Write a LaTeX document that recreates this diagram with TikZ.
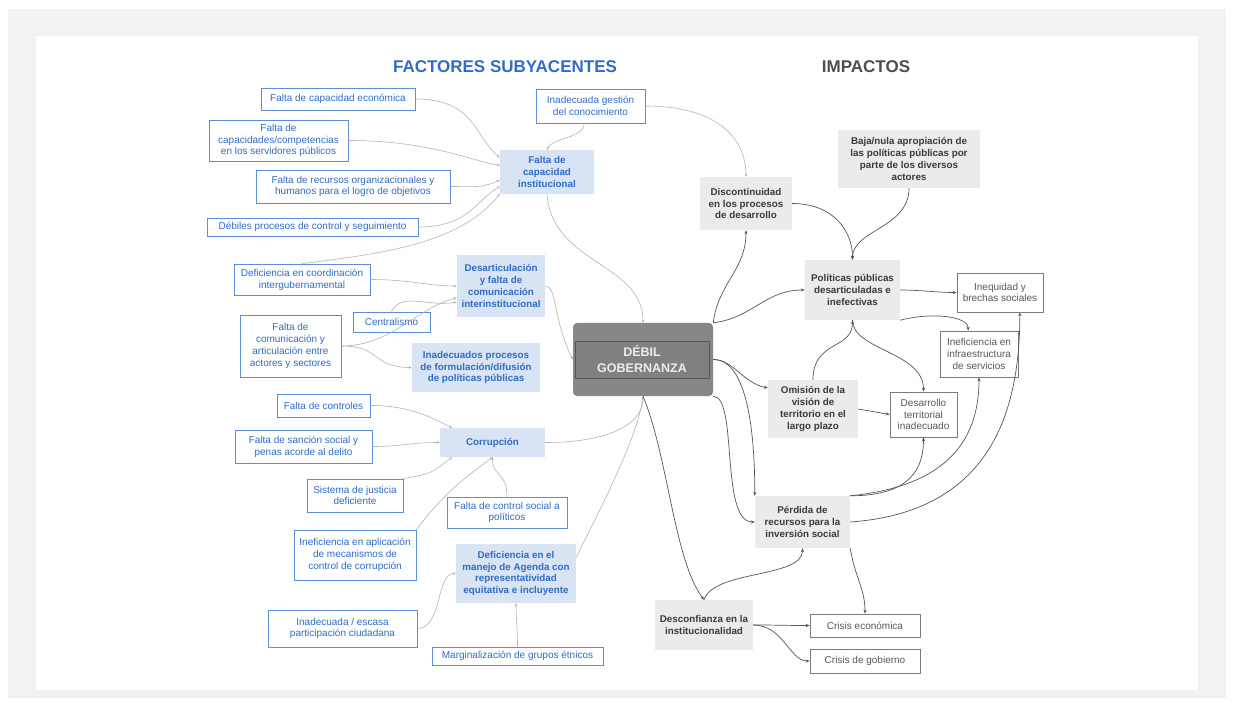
\documentclass[tikz,border=0pt]{standalone}
\usepackage{fontspec}
\setmainfont{Liberation Sans}
\usetikzlibrary{arrows.meta}
\definecolor{bggray}{HTML}{F2F2F2}
\definecolor{bluetxt}{HTML}{2F6CC5}
\definecolor{blueln}{HTML}{5A8FD8}
\definecolor{bluefill}{HTML}{D8E3F3}
\definecolor{lconn}{HTML}{B4B4B4}
\definecolor{rconn}{HTML}{555555}
\definecolor{grayfill}{HTML}{EBEBEB}
\definecolor{graytxt}{HTML}{3A3A3A}
\definecolor{grayln}{HTML}{7A7A7A}
\definecolor{debilfill}{HTML}{878787}
\definecolor{debilln}{HTML}{555555}
\begin{document}
\begin{tikzpicture}[x=1pt,y=-1pt,
  base/.style={align=center,inner sep=1pt,font=\fontsize{10}{11.8}\selectfont},
  bb/.style={base,draw=blueln,line width=0.8pt,fill=white,text=bluetxt},
  bf/.style={base,fill=bluefill,text=bluetxt,font=\fontsize{9.8}{11.8}\selectfont\bfseries},
  gf/.style={base,fill=grayfill,text=graytxt,font=\fontsize{9.8}{11.8}\selectfont\bfseries},
  gb/.style={base,draw=grayln,line width=0.7pt,fill=white,text=graytxt!85},
  lc/.style={draw=lconn,line width=0.6pt,-{Stealth[length=3pt,width=2.6pt]}},
  rc/.style={draw=rconn,line width=0.7pt,-{Stealth[length=4pt,width=3.2pt]}},
  ttl/.style={font=\fontsize{17}{20}\selectfont\bfseries}
]
\useasboundingbox (0,0) rectangle (1234,708);
\fill[white] (0,0) rectangle (1234,708);
\fill[bggray] (8,9) rectangle (1226,698);
\fill[white] (36,36) rectangle (1198,690);

% titles
\node[ttl,text=bluetxt] (t1) at (505,67) {FACTORES SUBYACENTES};
\node[ttl,text=graytxt!90] (t2) at (866,67) {IMPACTOS};

% left side
\node[bb,minimum width=154,minimum height=22] (capecon) at (338,99) {Falta de capacidad económica};
\node[bb,minimum width=139,minimum height=41] (capserv) at (278.5,140.5) {Falta de\\capacidades/competencias\\en los servidores públicos};
\node[bb,minimum width=194,minimum height=33] (recursos) at (353,186.5) {Falta de recursos organizacionales y\\humanos para el logro de objetivos};
\node[bb,minimum width=211,minimum height=18] (debiles) at (312.5,227) {Débiles procesos de control y seguimiento};
\node[bb,minimum width=109,minimum height=34] (gestion) at (590.5,106) {Inadecuada gestión\\del conocimiento};
\node[bf,minimum width=94,minimum height=44] (instit) at (547,172) {Falta de\\capacidad\\institucional};
\node[bb,minimum width=136,minimum height=31] (coord) at (302,279.5) {Deficiencia en coordinación\\intergubernamental};
\node[bf,minimum width=88,minimum height=62] (desart) at (501,286) {Desarticulación\\y falta de\\comunicación\\interinstitucional};
\node[bb,minimum width=77,minimum height=20] (central) at (391.5,322) {Centralismo};
\node[bb,minimum width=101,minimum height=62] (comun) at (290.5,346) {Falta de\\comunicación y\\articulación entre\\actores y sectores};
\node[bf,minimum width=128,minimum height=49] (formul) at (476,367.5) {Inadecuados procesos\\de formulación/difusión\\de políticas públicas};
\node[bb,minimum width=93,minimum height=23] (controles) at (323.5,405.5) {Falta de controles};
\node[bb,minimum width=137,minimum height=33] (sancion) at (303.5,446.5) {Falta de sanción social y\\penas acorde al delito};
\node[bf,minimum width=105,minimum height=29] (corrup) at (492.5,442.5) {Corrupción};
\node[bb,minimum width=96,minimum height=33] (justicia) at (355,495.5) {Sistema de justicia\\deficiente};
\node[bb,minimum width=120,minimum height=31] (ctrlsoc) at (507,512.5) {Falta de control social a\\políticos};
\node[bb,minimum width=122,minimum height=50] (inefic) at (355,555) {Ineficiencia en aplicación\\de mecanismos de\\control de corrupción};
\node[bf,minimum width=120,minimum height=59] (agenda) at (516,573.5) {Deficiencia en el\\manejo de Agenda con\\representatividad\\equitativa e incluyente};
\node[bb,minimum width=149,minimum height=37] (partic) at (342.5,628.5) {Inadecuada / escasa\\participación ciudadana};
\node[bb,minimum width=171,minimum height=18] (margin) at (517.5,656) {Marginalización de grupos étnicos};

% center
\node[fill=debilfill,rounded corners=4pt,minimum width=140,minimum height=73,inner sep=0pt] (debil) at (643,359.5) {};
\node[draw=debilln,line width=0.8pt,fill=debilfill!95!black,minimum width=134,minimum height=37,inner sep=0pt,align=center,text=white!93!black,font=\fontsize{12.5}{16}\selectfont\bfseries] (debilin) at (642,359.5) {DÉBIL\\GOBERNANZA};

% right side
\node[gf,minimum width=92,minimum height=53] (disc) at (746,203.5) {Discontinuidad\\en los procesos\\de desarrollo};
\node[gf,minimum width=142,minimum height=58] (baja) at (909,159) {Baja/nula apropiación de\\las políticas públicas por\\parte de los diversos\\actores};
\node[gf,minimum width=95,minimum height=60] (pol) at (852.5,290) {Políticas públicas\\desarticuladas e\\inefectivas};
\node[gb,minimum width=86,minimum height=39] (ineq) at (1000,292.5) {Inequidad y\\brechas sociales};
\node[gb,minimum width=78,minimum height=46] (inef) at (979,354) {Ineficiencia en\\infraestructura\\de servicios};
\node[gf,minimum width=90,minimum height=58] (omision) at (813,409) {Omisión de la\\visión de\\territorio en el\\largo plazo};
\node[gb,minimum width=67,minimum height=45] (desarr) at (923.5,414.5) {Desarrollo\\territorial\\inadecuado};
\node[gf,minimum width=95,minimum height=52] (perdida) at (802.5,522) {Pérdida de\\recursos para la\\inversión social};
\node[gf,minimum width=98,minimum height=50] (desconf) at (704,625) {Desconfianza en la\\institucionalidad};
\node[gb,minimum width=110,minimum height=23] (crisisE) at (865,625.5) {Crisis económica};
\node[gb,minimum width=110,minimum height=24] (crisisG) at (865,661) {Crisis de gobierno};

% left connectors
\draw[lc] (capecon.east) .. controls +(60,0) and +(-25,-20) .. (instit.163);
\draw[lc] (capserv.east) .. controls +(80,0) and +(-30,-5) .. (instit.172);
\draw[lc] (recursos.east) .. controls +(25,0) and +(-20,8) .. (instit.190);
\draw[lc] (debiles.east) .. controls +(50,0) and +(-25,15) .. (instit.197);
\draw[lc] (coord.north) .. controls +(80,-10) and +(-40,50) .. (instit.205);
\draw[lc] (gestion.250) .. controls +(0,15) and +(5,-12) .. (instit.north);
\draw[lc] (gestion.east) .. controls +(70,0) and +(0,-40) .. (disc.north);
\draw[lc] (instit.south) .. controls +(5,70) and +(0,-60) .. (debil.north);
\draw[lc] (coord.east) .. controls +(40,0) and +(-30,0) .. (desart.west);
\draw[lc] (central.north) .. controls +(10,-20) and +(-30,5) .. (desart.200);
\draw[lc] (comun.east) .. controls +(50,0) and +(-40,10) .. (desart.195);
\draw[lc] (comun.east) .. controls +(40,0) and +(-40,0) .. (formul.west);
\draw[lc] (desart.east) .. controls +(12,0) and +(-20,-40) .. (debil.west);
\draw[lc] (controles.east) .. controls +(40,0) and +(-20,-10) .. (corrup.160);
\draw[lc] (sancion.east) .. controls +(30,0) and +(-30,0) .. (corrup.west);
\draw[lc] (justicia.north east) .. controls +(30,-5) and +(-20,15) .. (corrup.200);
\draw[lc] (ctrlsoc.north) .. controls +(0,-25) and +(0,20) .. (corrup.south);
\draw[lc] (inefic.north east) .. controls +(30,-40) and +(-20,15) .. (corrup.south);
\draw[lc] (corrup.east) .. controls +(60,0) and +(0,30) .. (debil.south);
\draw[lc] (agenda.15) .. controls +(25,-50) and +(-5,40) .. (debil.south);
\draw[lc] (partic.east) .. controls +(25,0) and +(-20,0) .. (agenda.west);
\draw[lc] (margin.north) .. controls +(0,-20) and +(0,15) .. (agenda.south);

% right connectors
\draw[rc] (debil.north east) .. controls +(5,-40) and +(0,40) .. (disc.south);
\draw[rc] (debil.north east) .. controls +(40,-5) and +(-40,0) .. (pol.west);
\draw[rc] (disc.east) .. controls +(40,0) and +(0,-30) .. (pol.north);
\draw[rc] (baja.south) .. controls +(0,40) and +(0,-30) .. (pol.north);
\draw[rc] (pol.east) .. controls +(20,0) and +(-20,0) .. (ineq.west);
\draw[rc] (pol.south east) .. controls +(30,-8) and +(0,-15) .. (inef.115);
\draw[rc] (omision.north) .. controls +(0,-40) and +(0,30) .. (pol.south);
\draw[rc] (pol.south) .. controls +(0,30) and +(0,-40) .. (desarr.north);
\draw[rc] (omision.east) -- (desarr.west);
\draw[rc] (debil.east) .. controls +(20,0) and +(-25,-5) .. (omision.155);
\draw[rc] (debil.east) .. controls +(35,0) and +(0,-60) .. (perdida.north west);
\draw[rc] (debil.south east) .. controls +(25,0) and +(-35,0) .. (perdida.west);
\draw[rc] (debil.south) .. controls +(25,60) and +(-30,-40) .. (desconf.north);
\draw[rc] (desconf.north) .. controls +(10,-30) and +(0,30) .. (perdida.south);
\draw[rc] (perdida.north east) .. controls +(50,0) and +(0,40) .. (desarr.south);
\draw[rc] (perdida.north east) .. controls +(100,-10) and +(0,60) .. (inef.south);
\draw[rc] (perdida.east) .. controls +(140,-10) and +(0,100) .. (ineq.-45);
\draw[rc] (perdida.south east) .. controls +(5,30) and +(0,-25) .. (crisisE.north);
\draw[rc] (desconf.east) .. controls +(25,0) and +(-25,0) .. (crisisE.west);
\draw[rc] (desconf.east) .. controls +(30,0) and +(-20,0) .. (crisisG.west);
\end{tikzpicture}
\end{document}
